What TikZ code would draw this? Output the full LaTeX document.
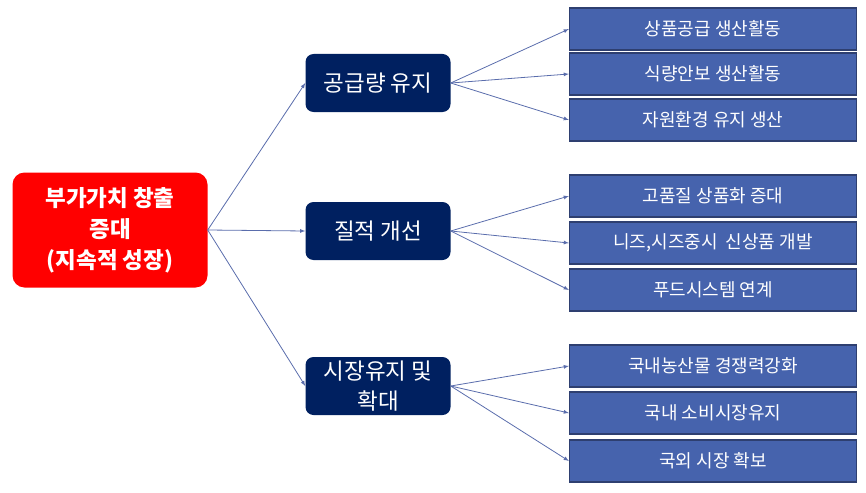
\documentclass[tikz,border=0pt]{standalone}
\usepackage{fontspec}
\setmainfont{Noto Sans CJK KR}
\definecolor{rootred}{HTML}{FF0000}
\definecolor{navy}{HTML}{002060}
\definecolor{leafblue}{HTML}{4663AD}
\definecolor{leafline}{HTML}{2E3F70}
\definecolor{arrblue}{HTML}{5A6DAC}
\begin{document}
\begin{tikzpicture}[x=1pt,y=-1pt,
    rootbox/.style={fill=rootred, rounded corners=12pt, minimum width=195pt, minimum height=115pt,
      inner sep=0pt, text=white, align=center, font=\fontsize{22.5}{31}\selectfont\bfseries},
    midbox/.style={fill=navy, rounded corners=8pt, minimum width=145pt, minimum height=58pt,
      inner sep=0pt, text=white, align=center, font=\fontsize{22.5}{30}\selectfont},
    leafbox/.style={fill=leafblue, draw=leafline, line width=1.2pt, minimum width=287pt, minimum height=42pt,
      inner sep=0pt, text=white, font=\fontsize{18}{21}\selectfont},
    arr/.style={-latex, draw=arrblue, line width=0.8pt}]
  \useasboundingbox (0,0) rectangle (866,492);
  % root
  \node[rootbox] (root) at (110,230) {부가가치 창출\\증대\\(지속적 성장)};
  % middle
  \node[midbox] (sup) at (378,83) {공급량 유지};
  \node[midbox] (qual) at (378,231) {질적 개선};
  \node[midbox] (mkt) at (378,386) {시장유지 및\\확대};
  % leaves
  \node[leafbox] (s1) at (713,29) {상품공급 생산활동};
  \node[leafbox] (s2) at (713,74) {식량안보 생산활동};
  \node[leafbox] (s3) at (713,120) {자원환경 유지 생산};
  \node[leafbox] (q1) at (713,196) {고품질 상품화 증대};
  \node[leafbox] (q2) at (713,243) {니즈,시즈중시\ \ 신상품 개발};
  \node[leafbox] (q3) at (713,290) {푸드시스템 연계};
  \node[leafbox] (k1) at (713,366) {국내농산물 경쟁력강화};
  \node[leafbox] (k2) at (713,413) {국내 소비시장유지};
  \node[leafbox] (k3) at (713,461) {국외 시장 확보};
  % arrows
  \draw[arr] (root.east) -- (sup.west);
  \draw[arr] (root.east) -- (qual.west);
  \draw[arr] (root.east) -- (mkt.west);
  \draw[arr] (sup.east) -- (s1.west);
  \draw[arr] (sup.east) -- (s2.west);
  \draw[arr] (sup.east) -- (s3.west);
  \draw[arr] (qual.east) -- (q1.west);
  \draw[arr] (qual.east) -- (q2.west);
  \draw[arr] (qual.east) -- (q3.west);
  \draw[arr] (mkt.east) -- (k1.west);
  \draw[arr] (mkt.east) -- (k2.west);
  \draw[arr] (mkt.east) -- (k3.west);
\end{tikzpicture}
\end{document}
